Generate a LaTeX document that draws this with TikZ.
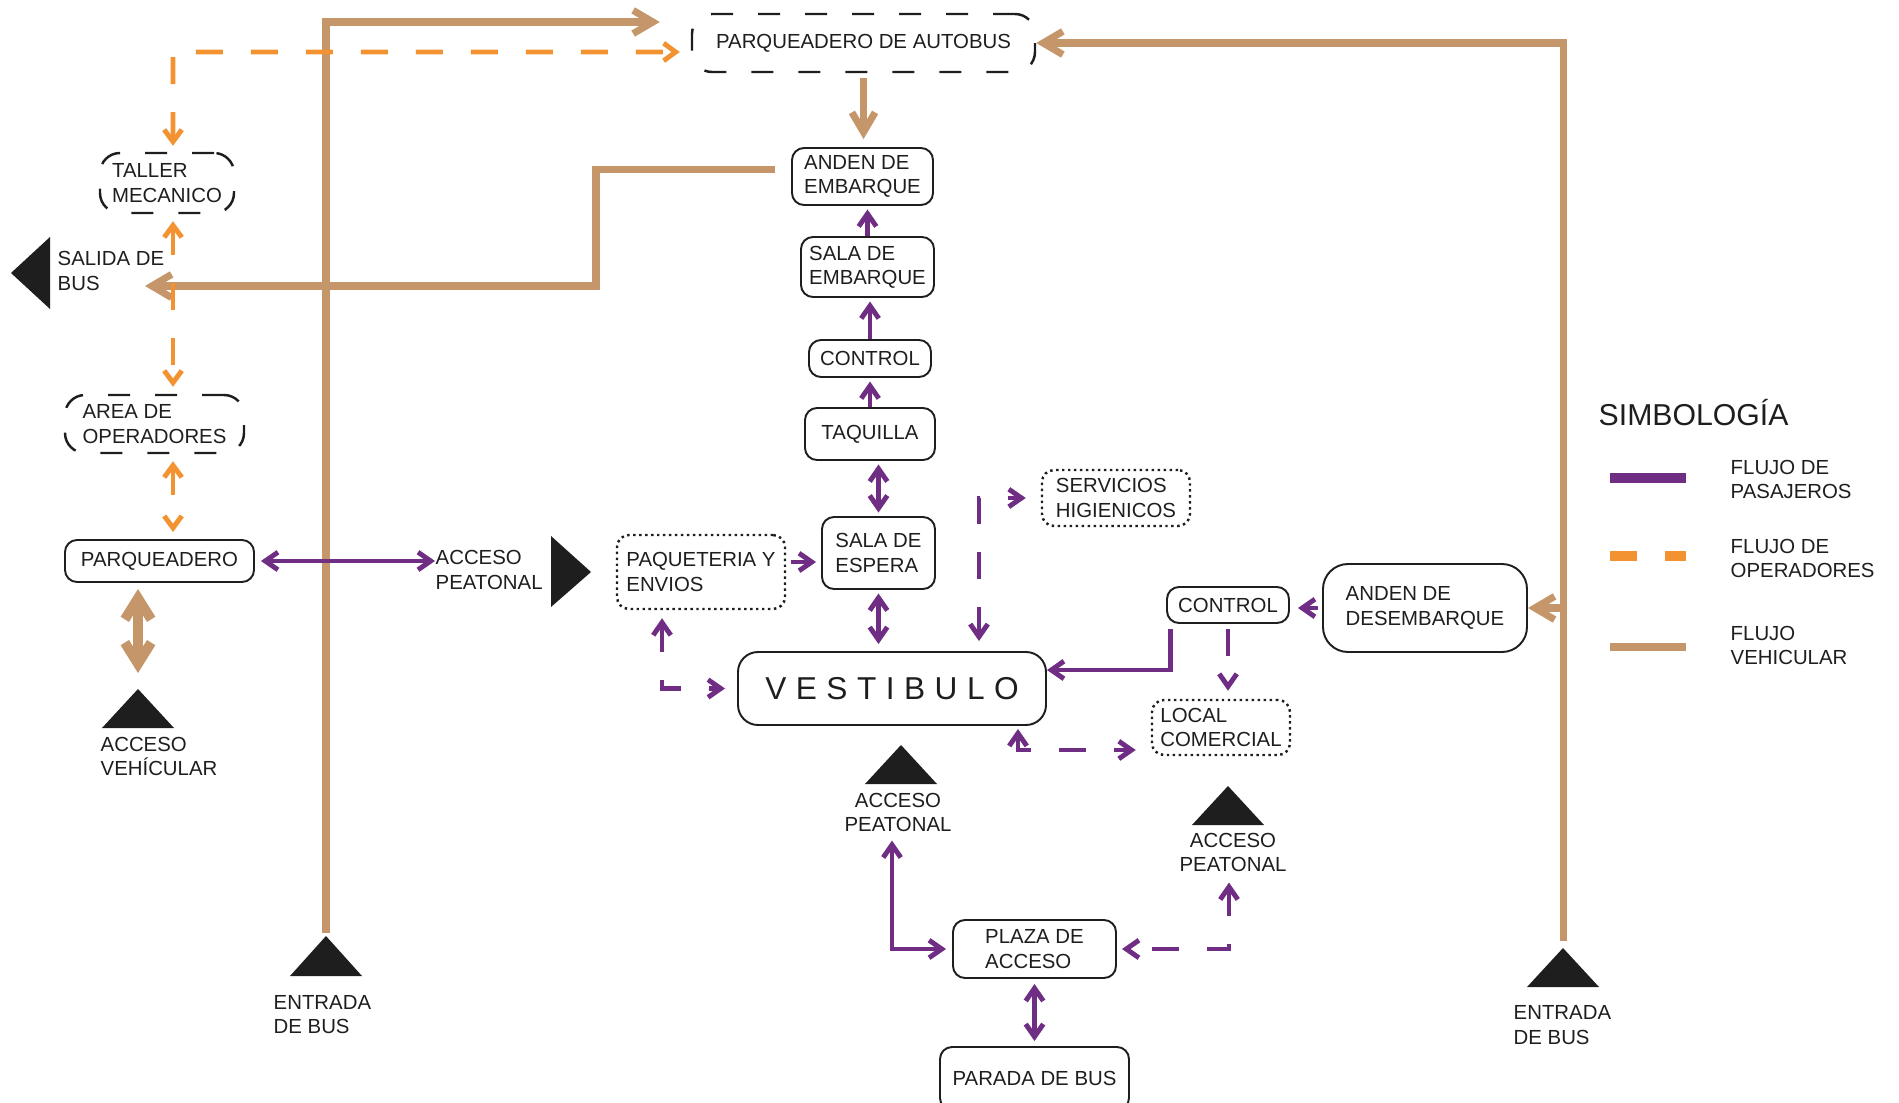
\documentclass[tikz,border=0pt]{standalone}
\usepackage{fontspec}
\setmainfont{Liberation Sans}
\newfontfamily\vestfont{Liberation Sans}[LetterSpace=30]
\usetikzlibrary{arrows.meta, positioning, calc}

\definecolor{marron}{RGB}{196,150,106}
\definecolor{naranja}{RGB}{242,146,48}
\definecolor{morado}{RGB}{111,45,132}
\definecolor{negro}{RGB}{30,30,30}

\newcommand{\etiq}{\fontsize{5.8}{6.9}\selectfont}

\tikzset{
  caja/.style={draw=negro, line width=0.55pt, rounded corners=0.12cm, align=left, font=\etiq, text=negro, inner sep=1pt},
  cajaguion/.style={caja, rounded corners=0.2cm, line width=0.7pt, dash pattern=on 0.22cm off 0.25cm},
  cajapunto/.style={caja, line width=0.7pt, densely dotted},
  texto/.style={font=\etiq, text=negro, align=left, inner sep=0pt},
  pasajeros/.style={draw=morado, line width=1.4pt, >={Straight Barb[length=3.6pt,width=5pt]}, shorten <=1pt, shorten >=1pt},
  pasajerosg/.style={pasajeros, dash pattern=on 0.27cm off 0.28cm},
  operadores/.style={draw=naranja, line width=1.4pt, dash pattern=on 0.27cm off 0.28cm, >={Straight Barb[length=3.4pt,width=5pt]}},
  vehicular/.style={draw=marron, line width=2pt, >={Straight Barb[length=5.6pt,width=6.6pt]}},
}

\begin{document}
\begin{tikzpicture}
  \useasboundingbox (0,0) rectangle (18.99,-11.03);

  % columna central
  \node[cajaguion, minimum width=3.43cm, minimum height=0.58cm] (autobus) at (8.635,-0.43) {PARQUEADERO DE AUTOBUS};
  \node[caja, minimum width=1.41cm, minimum height=0.57cm] (andenemb) at (8.625,-1.765) {ANDEN DE\\EMBARQUE};
  \node[caja, minimum width=1.33cm, minimum height=0.60cm] (salaemb) at (8.675,-2.67) {SALA DE\\EMBARQUE};
  \node[caja, minimum width=1.22cm, minimum height=0.37cm] (control1) at (8.70,-3.585) {CONTROL};
  \node[caja, minimum width=1.30cm, minimum height=0.52cm] (taquilla) at (8.70,-4.34) {TAQUILLA};
  \node[caja, minimum width=1.13cm, minimum height=0.72cm] (salaesp) at (8.785,-5.53) {SALA DE\\ESPERA};
  \node[caja, rounded corners=0.2cm, minimum width=3.08cm, minimum height=0.73cm,
        font={\vestfont\fontsize{9}{10}\selectfont}] (vestibulo) at (8.92,-6.885) {VESTIBULO};
  \node[cajapunto, minimum width=1.68cm, minimum height=0.74cm] (paqueteria) at (7.01,-5.72) {PAQUETERIA Y\\ENVIOS};
  \node[cajapunto, minimum width=1.48cm, minimum height=0.56cm] (servicios) at (11.16,-4.98) {SERVICIOS\\HIGIENICOS};
  \node[caja, minimum width=1.22cm, minimum height=0.36cm] (control2) at (12.28,-6.05) {CONTROL};
  \node[caja, rounded corners=0.25cm, minimum width=2.04cm, minimum height=0.88cm] (andendes) at (14.25,-6.08) {ANDEN DE\\DESEMBARQUE};
  \node[cajapunto, minimum width=1.38cm, minimum height=0.55cm] (local) at (12.21,-7.275) {LOCAL\\COMERCIAL};
  \node[caja, minimum width=1.63cm, minimum height=0.58cm] (plaza) at (10.345,-9.49) {PLAZA DE\\ACCESO};
  \node[caja, minimum width=1.89cm, minimum height=0.63cm] (parada) at (10.345,-10.785) {PARADA DE BUS};

  % columna izquierda
  \node[cajaguion, minimum width=1.34cm, minimum height=0.60cm] (taller) at (1.67,-1.83) {TALLER\\MECANICO};
  \node[cajaguion, minimum width=1.79cm, minimum height=0.58cm] (area) at (1.545,-4.24) {AREA DE\\OPERADORES};
  \node[caja, minimum width=1.89cm, minimum height=0.42cm] (parqueadero) at (1.595,-5.61) {PARQUEADERO};

  % accesos y salidas
  \fill[negro] (0.11,-2.73) -- (0.50,-2.37) -- (0.50,-3.09) -- cycle;
  \node[texto, anchor=west] (salidatxt) at (0.57,-2.71) {SALIDA DE\\BUS};
  \fill[negro] (5.91,-5.72) -- (5.51,-5.36) -- (5.51,-6.07) -- cycle;
  \node[texto, anchor=west] (peatonal1) at (4.35,-5.70) {ACCESO\\PEATONAL};
  \fill[negro] (1.38,-6.89) -- (1.02,-7.28) -- (1.74,-7.28) -- cycle;
  \node[texto, anchor=west] (vehicular) at (1.00,-7.565) {ACCESO\\VEHÍCULAR};
  \fill[negro] (3.26,-9.36) -- (2.90,-9.76) -- (3.62,-9.76) -- cycle;
  \node[texto, anchor=west] (entrada1) at (2.73,-10.145) {ENTRADA\\DE BUS};
  \fill[negro] (15.63,-9.48) -- (15.27,-9.87) -- (15.99,-9.87) -- cycle;
  \node[texto, anchor=west] (entrada2) at (15.13,-10.25) {ENTRADA\\DE BUS};
  \fill[negro] (9.01,-7.45) -- (8.65,-7.84) -- (9.37,-7.84) -- cycle;
  \node[texto, align=center] (peatonal2) at (8.98,-8.125) {ACCESO\\PEATONAL};
  \fill[negro] (12.28,-7.86) -- (11.92,-8.25) -- (12.64,-8.25) -- cycle;
  \node[texto, align=center] (peatonal3) at (12.33,-8.525) {ACCESO\\PEATONAL};

  \coordinate (salida) at (1.45,-2.86);
  \coordinate (codo) at (5.96,-2.86);
  \coordinate (ent1) at (3.26,-9.33);
  \coordinate (ent2) at (15.63,-9.41);
  \coordinate (acv) at (1.38,-6.89);
  \coordinate (opx) at (1.73,-0.52);

  % flujo vehicular
  \draw[vehicular,->] (ent1) |- ([xshift=-0.31cm,yshift=0.21cm]autobus.west);
  \draw[vehicular,->] (ent2) |- (autobus.east);
  \draw[vehicular,->] (andendes.east -| ent2) -- (andendes.east);
  \draw[vehicular,->,shorten <=0.05cm,shorten >=0.08cm] (autobus.south) -- (autobus.south |- andenemb.north);
  \draw[vehicular,->,shorten <=0.16cm] ([yshift=0.07cm]andenemb.west) -| (codo) -- (salida);
  \draw[vehicular,line width=2.8pt,<->,>={Straight Barb[length=6pt,width=7.5pt]},shorten <=0.06cm,shorten >=0.16cm] (acv |- parqueadero.south) -- (acv);

  % flujo de operadores
  \draw[operadores,<->,shorten <=0.06cm,shorten >=0.11cm] (taller.north -| opx) -- (opx) -- ([yshift=-0.09cm]autobus.west);
  \draw[operadores,<->,shorten <=0.07cm,shorten >=0.07cm] (taller.south -| opx) -- (area.north -| opx);
  \draw[operadores,<->,shorten <=0.07cm,shorten >=0.07cm] (area.south -| opx) -- (parqueadero.north -| opx);

  % flujo de pasajeros
  \draw[pasajeros,->,shorten <=0pt] (salaemb.north) -- (salaemb.north |- andenemb.south);
  \draw[pasajeros,->,shorten <=0pt] (control1.north) -- (control1.north |- salaemb.south);
  \draw[pasajeros,->,shorten <=0pt] (taquilla.north) -- (taquilla.north |- control1.south);
  \draw[pasajeros,<->] (salaesp.north |- taquilla.south) -- (salaesp.north);
  \draw[pasajeros,<->,shorten >=0.07cm] (salaesp.south) -- (salaesp.south |- vestibulo.north);
  \coordinate (p6) at ([yshift=-0.09cm]salaesp.west);
  \draw[pasajeros,->,shorten <=0.05cm,shorten >=0.05cm] (paqueteria.east |- p6) -- (p6);
  \draw[pasajeros,<->,shorten <=0.06cm,shorten >=0pt] (parqueadero.east) -- (parqueadero.east -| peatonal1.west);
  \draw[pasajeros,->,shorten <=0.04cm,shorten >=0.08cm] (andendes.west) -- (andendes.west -| control2.east);
  \draw[pasajeros,->,shorten <=0.05cm,shorten >=0pt] ([xshift=0.04cm]control2.south west) |- ([yshift=0.185cm]vestibulo.east);
  \draw[pasajeros,<->,shorten <=0.08cm,shorten >=0.06cm] ([xshift=-0.06cm]peatonal2.south) |- (plaza.west);
  \draw[pasajeros,<->,shorten <=0.05cm,shorten >=0.05cm] (plaza.south) -- (parada.north);
  % recorridos secundarios
  \draw[pasajerosg,<->,shorten <=0.1cm,shorten >=0.15cm] ([xshift=0.87cm]vestibulo.north) |- (servicios.west);
  \draw[pasajerosg,<->,shorten <=0.08cm,shorten >=0.12cm] ([xshift=-0.39cm]paqueteria.south) |- (vestibulo.west);
  \draw[pasajerosg,->,shorten <=0.05cm,shorten >=0.08cm] (control2.south) -- (control2.south |- local.north);
  \draw[pasajerosg,<->,shorten <=0.03cm,shorten >=0.15cm] ([xshift=1.26cm]vestibulo.south) |- ([yshift=-0.225cm]local.west);
  \draw[pasajerosg,<->,shorten <=0.1cm,shorten >=0.05cm] ([xshift=-0.04cm]peatonal3.south) |- (plaza.east);

  % simbologia
  \node[texto, font=\fontsize{8.6}{10}\selectfont, anchor=west] (simbologia) at (15.98,-4.13) {SIMBOLOGÍA};
  \draw[morado, line width=3.1pt] (16.10,-4.78) -- (16.86,-4.78);
  \node[texto, anchor=west] (leypas) at (17.30,-4.795) {FLUJO DE\\PASAJEROS};
  \draw[naranja, line width=3pt, dash pattern=on 0.27cm off 0.28cm] (16.10,-5.56) -- (16.86,-5.56);
  \node[texto, anchor=west] (leyope) at (17.30,-5.585) {FLUJO DE\\OPERADORES};
  \draw[marron, line width=2.1pt] (16.10,-6.47) -- (16.86,-6.47);
  \node[texto, anchor=west] (leyveh) at (17.30,-6.455) {FLUJO\\VEHICULAR};
\end{tikzpicture}
\end{document}
